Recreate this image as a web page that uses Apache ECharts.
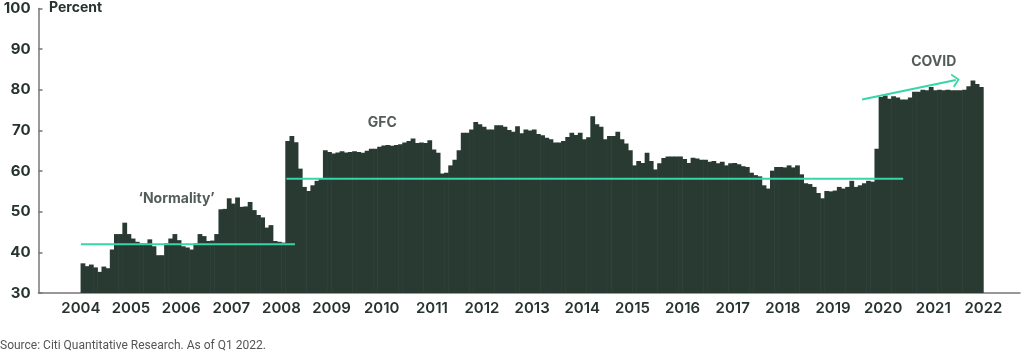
<!DOCTYPE html>
<html><head><meta charset="utf-8">
<script src="https://cdn.jsdelivr.net/npm/echarts@6/dist/echarts.min.js"></script>
<style>html,body{margin:0;padding:0;background:#fff}#c{width:1024px;height:360px}</style>
</head><body><div id="c"></div>
<script>
// Monthly share (percent), starting at 2004
const startYear = 2004;
const periodsPerYear = 12;
const values = [
  37.3,36.6,37.0,36.3,35.2,36.5,36.1,40.7,44.5,44.5,47.3,44.5,
  43.4,42.6,42.2,42.2,43.2,41.5,39.3,39.3,42.2,43.4,44.5,43.0,
  41.5,41.2,40.7,42.2,44.5,44.0,42.8,42.9,44.5,50.6,50.7,53.3,
  52.0,53.5,51.2,51.3,52.4,50.4,49.2,48.6,46.1,46.7,42.8,42.6,
  42.4,67.4,68.6,67.1,60.6,56.1,55.1,56.5,57.6,58.3,65.1,64.7,
  64.3,64.6,64.9,64.6,64.7,64.9,64.7,64.5,65.0,65.5,65.5,66.0,
  66.3,66.4,66.2,66.4,66.6,67.0,67.4,68.0,66.9,67.0,66.9,67.6,
  65.3,64.5,59.4,59.6,61.4,62.8,65.1,69.4,69.4,70.2,72.1,71.5,
  70.9,70.2,70.2,71.3,71.3,70.9,70.1,69.7,71.0,69.3,70.2,70.0,
  70.2,69.1,68.8,68.2,67.8,67.0,67.0,67.4,68.4,69.4,68.9,69.4,
  67.8,68.3,73.5,71.5,70.9,67.8,68.6,68.6,69.7,67.8,66.8,65.1,
  61.4,62.5,62.0,64.5,62.5,60.4,61.9,63.2,63.6,63.6,63.6,63.6,
  63.0,62.0,63.3,63.1,62.8,62.8,62.3,62.5,61.9,62.3,61.4,61.9,
  62.0,61.7,61.2,61.0,59.6,59.0,58.7,56.5,55.7,60.1,61.0,61.0,
  60.9,61.4,60.9,61.4,59.2,57.0,56.8,56.1,54.6,53.3,55.1,55.0,
  55.2,56.1,55.7,56.1,57.6,56.1,56.5,57.0,57.6,57.4,65.5,78.2,
  78.6,77.8,78.4,78.1,77.6,77.6,78.1,79.5,79.5,80.0,79.9,80.7,
  79.9,80.0,79.9,80.0,79.9,79.9,79.9,80.0,80.9,82.3,81.4,80.7
];
const yearLabels = [2004,2005,2006,2007,2008,2009,2010,2011,2012,2013,2014,2015,2016,2017,2018,2019,2020,2021,2022];
const normalityLine = [[2004.0, 42.0], [2008.27, 42.0]];
const gfcLine = [[2008.1, 58.1], [2020.4, 58.1]];
const covidArrow = [[2019.58, 77.6], [2021.45, 82.4]];
const annotations = [
  { name: '\u2018Normality\u2019', value: [2005.91, 53.1] },
  { name: 'GFC', value: [2010.01, 72.0] },
  { name: 'COVID', value: [2021.01, 87.0] }
];

const barColor = '#283a32';
const accent = '#36d6a9';
const textColor = '#27332e';
const axisColor = '#777777';

const barData = values.map((v, i) => [startYear + (i + 0.5) / periodsPerYear, v]);

const chart = echarts.init(document.getElementById('c'), null, { renderer: 'canvas' });
chart.setOption({
  animation: false,
  textStyle: { fontFamily: 'Inter' },
  title: [
    { text: 'Percent', left: 49, top: 1, padding: 0,
      textStyle: { fontSize: 14, fontWeight: 'bold', color: textColor, fontFamily: 'Inter' } },
    { text: 'Source: Citi Quantitative Research. As of Q1 2022.', left: 0, top: 340, padding: 0,
      textStyle: { fontSize: 12, fontWeight: 'normal', color: '#555', fontFamily: 'Roboto' } }
  ],
  grid: { left: 38.5, right: 4, top: 8.5, bottom: 67, containLabel: false },
  xAxis: {
    type: 'value', min: 2003.155, max: 2022.73,
    axisLine: { show: true, lineStyle: { color: axisColor, width: 1.5 } },
    axisTick: { show: false },
    splitLine: { show: false },
    axisLabel: {
      customValues: yearLabels,
      formatter: v => String(Math.round(v)),
      fontSize: 15, fontWeight: 600, color: textColor, margin: 8, fontFamily: 'Inter'
    }
  },
  yAxis: {
    type: 'value', min: 30, max: 100, interval: 10,
    axisLine: { show: true, lineStyle: { color: axisColor, width: 1.5 } },
    axisTick: { show: true, inside: true, length: 4, lineStyle: { color: axisColor, width: 1.5 } },
    splitLine: { show: false },
    axisLabel: { fontSize: 15, fontWeight: 'bold', color: textColor, margin: 8, fontFamily: 'Inter' }
  },
  series: [
    {
      type: 'bar', data: barData, barWidth: 4, clip: true, z: 2,
      itemStyle: { color: barColor, borderWidth: 0 },
      markLine: {
        silent: true, animation: false,
        symbol: ['none', 'path://M0,10 L10,0 L20,10 L18,11.6 L10,3.6 L2,11.6 Z'],
        symbolSize: [14, 8],
        lineStyle: { color: accent, width: 2, type: 'solid' },
        label: { show: false },
        data: [[{ coord: covidArrow[0] }, { coord: covidArrow[1] }]]
      }
    },
    { type: 'line', data: normalityLine, symbol: 'none', z: 3,
      lineStyle: { color: accent, width: 2 } },
    { type: 'line', data: gfcLine, symbol: 'none', z: 3,
      lineStyle: { color: accent, width: 2 } },
    { type: 'scatter', data: annotations, symbolSize: 0, z: 4,
      label: { show: true, position: 'inside', formatter: p => p.name,
        fontSize: 14, fontWeight: 'bold', color: textColor, fontFamily: 'Inter' } }
  ]
});
// Bar width = one period on the x scale, plus a hair of overlap so bars touch
const x0 = chart.convertToPixel({ xAxisIndex: 0 }, startYear);
const x1 = chart.convertToPixel({ xAxisIndex: 0 }, startYear + 1 / periodsPerYear);
chart.setOption({ series: [{ barWidth: Math.abs(x1 - x0) + 0.6 }] });
</script></body></html>
